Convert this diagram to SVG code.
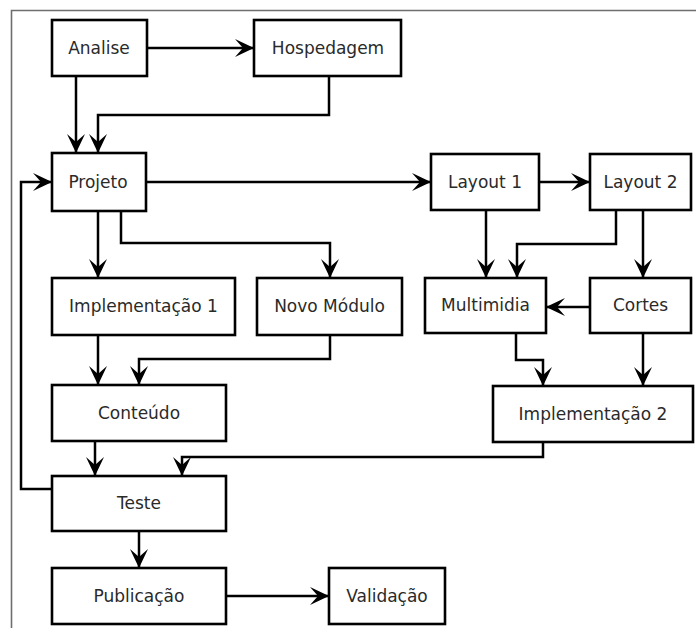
<svg xmlns="http://www.w3.org/2000/svg" width="696" height="628" viewBox="0 0 696 628">
  <style>
    .box rect { fill: #ffffff; stroke: #000000; stroke-width: 2.6; }
    .box text { font-family: "DejaVu Sans", "Liberation Sans", sans-serif; font-size: 17px; fill: #2a2a2a; text-anchor: middle; }
    #connectors path { fill: none; stroke: #000000; stroke-width: 2.5; marker-end: url(#arrow); }
  </style>
  <defs>
    <marker id="arrow" viewBox="-20 -10 21 20" markerWidth="21" markerHeight="20" refX="0" refY="0" markerUnits="userSpaceOnUse" orient="auto">
      <path d="M0,0 L-19,-9 L-11,0 L-19,9 Z" fill="#000000"/>
    </marker>
  </defs>

  <rect width="696" height="628" fill="#ffffff"/>
  <!-- page frame -->
  <path d="M11.5,628 V10.5 H696" fill="none" stroke="#6e6e6e" stroke-width="1.6"/>

  <g id="connectors">
    <path d="M147,48 H254"/>
    <path d="M76,76 V153"/>
    <path d="M329,76 V115 H98 V153"/>
    <path d="M146,182 H431"/>
    <path d="M52,489 H21 V182 H52"/>
    <path d="M98,211 V278"/>
    <path d="M121,211 V243 H330 V278"/>
    <path d="M98,335 V385"/>
    <path d="M330,335 V359 H139 V385"/>
    <path d="M95,441 V476"/>
    <path d="M543,442 V457 H182 V476"/>
    <path d="M139,531 V568"/>
    <path d="M226,596 H329"/>
    <path d="M539,182 H590"/>
    <path d="M486,210 V278"/>
    <path d="M616,210 V244 H517 V278"/>
    <path d="M643,210 V278"/>
    <path d="M590,307 H546"/>
    <path d="M516,333 V360 H543 V386"/>
    <path d="M643,333 V386"/>
  </g>

  <g id="analise" class="box"><rect x="52" y="20" width="95" height="56"/><text x="99" y="54">Analise</text></g>
  <g id="hospedagem" class="box"><rect x="254" y="20" width="147" height="56"/><text x="328" y="54">Hospedagem</text></g>
  <g id="projeto" class="box"><rect x="52" y="153" width="94" height="58"/><text x="98" y="188">Projeto</text></g>
  <g id="layout1" class="box"><rect x="431" y="154" width="108" height="56"/><text x="485" y="188">Layout 1</text></g>
  <g id="layout2" class="box"><rect x="590" y="154" width="101" height="56"/><text x="640.5" y="188">Layout 2</text></g>
  <g id="implementacao1" class="box"><rect x="52" y="278" width="183" height="57"/><text x="143.5" y="312">Implementação 1</text></g>
  <g id="novo-modulo" class="box"><rect x="257" y="278" width="145" height="57"/><text x="329.5" y="312">Novo Módulo</text></g>
  <g id="multimidia" class="box"><rect x="425" y="278" width="121" height="55"/><text x="485.5" y="311">Multimidia</text></g>
  <g id="cortes" class="box"><rect x="590" y="278" width="101" height="55"/><text x="640.5" y="311">Cortes</text></g>
  <g id="conteudo" class="box"><rect x="52" y="385" width="174" height="56"/><text x="139" y="419">Conteúdo</text></g>
  <g id="implementacao2" class="box"><rect x="493" y="386" width="200" height="56"/><text x="593" y="420">Implementação 2</text></g>
  <g id="teste" class="box"><rect x="52" y="476" width="174" height="55"/><text x="139" y="509">Teste</text></g>
  <g id="publicacao" class="box"><rect x="52" y="568" width="174" height="56"/><text x="139" y="602">Publicação</text></g>
  <g id="validacao" class="box"><rect x="329" y="568" width="116" height="56"/><text x="387" y="602">Validação</text></g>
</svg>
